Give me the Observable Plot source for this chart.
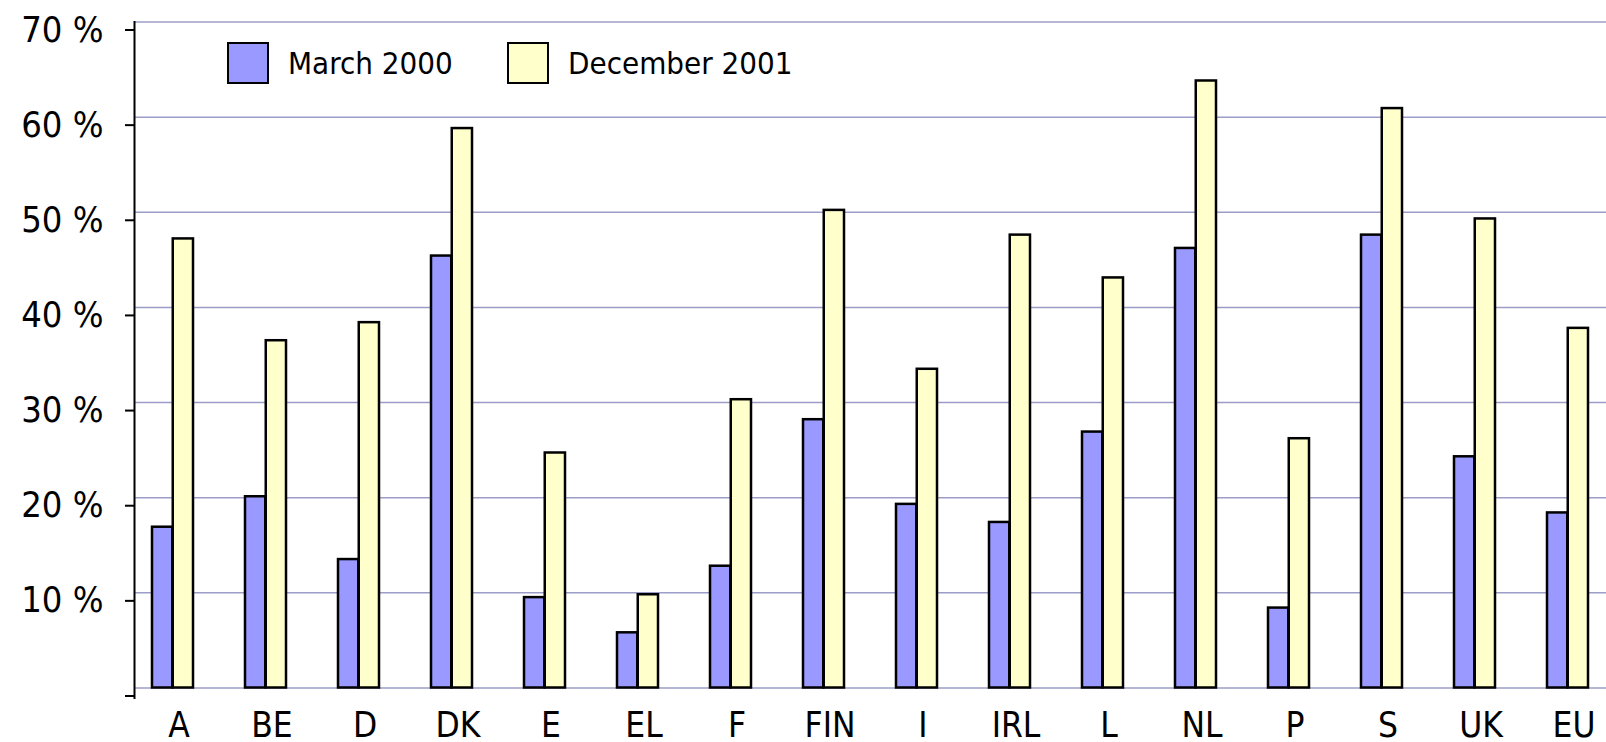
<!DOCTYPE html>
<html>
<head>
<meta charset="utf-8">
<script src="https://cdn.jsdelivr.net/npm/d3@7"></script>
<script src="https://cdn.jsdelivr.net/npm/@observablehq/plot@0.6"></script>
<style>
  html, body { margin: 0; padding: 0; background: #fff; }
  #wrap { position: relative; width: 1606px; height: 742px; overflow: hidden; }
  #wrap svg { font-family: "DejaVu Sans Condensed", "DejaVu Sans", sans-serif; font-stretch: condensed; color: #000; }
  .legend-item { position: absolute; top: 42px; height: 42px; display: flex; align-items: center;
    font-family: "DejaVu Sans Condensed", "DejaVu Sans", sans-serif; font-stretch: condensed; font-size: 31px; color: #000; }
  .swatch { width: 42px; height: 42px; box-sizing: border-box; border: 2px solid #000; margin-right: 19px; }
</style>
</head>
<body>
<div id="wrap"></div>
<script>
const countries = ["A","BE","D","DK","E","EL","F","FIN","I","IRL","L","NL","P","S","UK","EU"];
const march2000 = [16.9, 20.1, 13.5, 45.4, 9.5, 5.8, 12.8, 28.2, 19.3, 17.4, 26.9, 46.2, 8.4, 47.6, 24.3, 18.4];
const dec2001   = [47.2, 36.5, 38.4, 58.8, 24.7, 9.8, 30.3, 50.2, 33.5, 47.6, 43.1, 63.8, 26.2, 60.9, 49.3, 37.8];
const seriesNames = ["March 2000", "December 2001"];
const seriesColors = ["#9999ff", "#ffffcc"];
const yTicks = [0, 10, 20, 30, 40, 50, 60, 70];

const chart = Plot.plot({
  width: 1606,
  height: 742,
  marginLeft: 134,
  marginRight: 0,
  marginTop: 21.5,
  marginBottom: 54.5,
  x: { type: "band", domain: countries, range: [122.25, 1618.25], padding: 0, label: null },
  y: { domain: [0, 70], label: null },
  marks: [
    Plot.ruleY(yTicks, { stroke: "#9c9cc8", strokeWidth: 1.5 }),
    Plot.barY(countries, { x: countries, y: march2000, fill: seriesColors[0], stroke: "#000", strokeWidth: 2.5, insetLeft: 26, insetRight: 46.75 }),
    Plot.barY(countries, { x: countries, y: dec2001, fill: seriesColors[1], stroke: "#000", strokeWidth: 2.5, insetLeft: 46.75, insetRight: 26 }),
    Plot.frame({ anchor: "left", stroke: "#000", strokeWidth: 2, insetBottom: -10 }),
    Plot.axisY(yTicks, { tickSize: 9, strokeWidth: 2, tickPadding: 22, fontSize: 36, dy: 8, tickFormat: d => d ? d + " %" : "", label: null }),
    Plot.axisX({ tickSize: 0, tickPadding: 24, fontSize: 35, dx: 6, label: null })
  ]
});
const wrap = document.getElementById("wrap");
wrap.appendChild(chart);

const legendLeft = [227, 507];
seriesNames.forEach((name, i) => {
  const item = document.createElement("div");
  item.className = "legend-item";
  item.style.left = legendLeft[i] + "px";
  const sw = document.createElement("div");
  sw.className = "swatch";
  sw.style.background = seriesColors[i];
  const t = document.createElement("span");
  t.textContent = name;
  item.appendChild(sw);
  item.appendChild(t);
  wrap.appendChild(item);
});
</script>
</body>
</html>
